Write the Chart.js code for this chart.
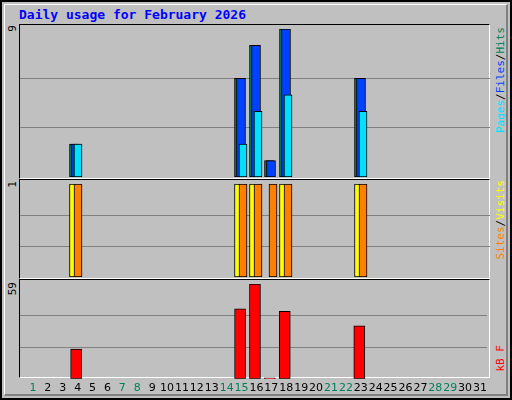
<!DOCTYPE html>
<html>
<head>
<meta charset="utf-8">
<script src="https://cdn.jsdelivr.net/npm/chart.js@4"></script>
<style>
  body { margin: 0; background: #fff; font-family: "DejaVu Sans Mono", monospace; }
  #frame { position: absolute; left: 0; top: 0; width: 508px; height: 396px; background: #c0c0c0;
    border-top: 2px solid #000; border-left: 2px solid #000; border-right: 2px solid #000; border-bottom: 2px solid #000; }
  #inner { position: absolute; left: 2px; top: 2px; width: 504px; height: 392px; border-left: 1px solid #fff; border-top: 1px solid #fff; border-right: 2px solid #808080; border-bottom: 2px solid #808080; box-sizing: border-box; }
  .title { position: absolute; left: 19px; top: 7px; font-size: 13px; font-weight: bold; color: #0000ff; }
  .panel { position: absolute; left: 19px; width: 471px; border-top: 1px solid #000; border-left: 1px solid #000; border-right: 1px solid #fff; border-bottom: 1px solid #fff; box-sizing: border-box; }
  .wrap { position: absolute; }
  .vl { position: absolute; writing-mode: vertical-rl; transform: rotate(180deg); font-size: 11px; white-space: nowrap; }
</style>
</head>
<body>
<div id="frame"><div id="inner"></div></div>
<div class="title">Daily usage for February 2026</div>
<div class="panel" style="top:24px;height:155px"></div>
<div class="panel" style="top:179px;height:100px"></div>
<div class="panel" style="top:279px;height:99px"></div>
<div class="vl" style="left:6px;top:25px;color:#000">9</div>
<div class="vl" style="left:6px;top:181px;color:#000">1</div>
<div class="vl" style="left:6px;top:282px;color:#000">59</div>
<div class="vl" style="left:494px;top:27px"><span style="color:#00e0ff">Pages</span><span style="color:#000">/</span><span style="color:#0040ff">Files</span><span style="color:#000">/</span><span style="color:#00805c">Hits</span></div>
<div class="vl" style="left:494px;top:180px"><span style="color:#ff8000">Sites</span><span style="color:#000">/</span><span style="color:#ffff00">Visits</span></div>
<div class="vl" style="left:494px;top:345px"><span style="color:#ff0000">kB F</span></div>
<div class="wrap" style="left:20px;top:29px;width:470px;height:148px"><canvas id="c1"></canvas></div>
<div class="wrap" style="left:20px;top:184px;width:470px;height:93px"><canvas id="c2"></canvas></div>
<div class="wrap" style="left:20px;top:284px;width:470px;height:114px"><canvas id="c3"></canvas></div>
<script>
const days = Array.from({ length: 31 }, (_, i) => i + 1);
const weekendDays = [1, 7, 8, 14, 15, 21, 22, 28, 29];
const hits   = [0,0,0,2,0,0,0,0,0,0,0,0,0,0,6,8,1,9,0,0,0,0,6,0,0,0,0,0,0,0,0];
const files  = [0,0,0,2,0,0,0,0,0,0,0,0,0,0,6,8,1,9,0,0,0,0,6,0,0,0,0,0,0,0,0];
const pages  = [0,0,0,2,0,0,0,0,0,0,0,0,0,0,2,4,0,5,0,0,0,0,4,0,0,0,0,0,0,0,0];
const visits = [0,0,0,1,0,0,0,0,0,0,0,0,0,0,1,1,0,1,0,0,0,0,1,0,0,0,0,0,0,0,0];
const sites  = [0,0,0,1,0,0,0,0,0,0,0,0,0,0,1,1,1,1,0,0,0,0,1,0,0,0,0,0,0,0,0];
const kbytes = [0,0,0,18.5,0,0,0,0,0,0,0,0,0,0,43.5,59,0.6,42,0,0,0,0,33,0,0,0,0,0,0,0,0];

const DAY_PX = 15;
const xMin = 1 - 13 / DAY_PX, xMax = 31 + 7 / DAY_PX;

// order: higher numbers are drawn first (underneath)
function series(values, offsetPx, color, width, order) {
  return {
    data: days.map((d, i) => ({ x: d + offsetPx / DAY_PX, y: values[i] })).filter(p => p.y > 0),
    backgroundColor: color,
    borderColor: "#000",
    borderWidth: 1,
    borderSkipped: false,
    barThickness: width,
    grouped: false,
    order,
  };
}

function makeChart(id, datasets, yMax, showX) {
  return new Chart(document.getElementById(id), {
    type: "bar",
    data: { datasets },
    options: {
      responsive: true,
      maintainAspectRatio: false,
      animation: false,
      layout: { padding: 0 },
      plugins: { legend: { display: false }, tooltip: { enabled: false } },
      scales: {
        x: {
          type: "linear", min: xMin, max: xMax, offset: false,
          display: showX,
          border: { display: false },
          grid: { display: false, drawTicks: false },
          afterBuildTicks: axis => { axis.ticks = days.map(v => ({ value: v })); },
          ticks: {
            autoSkip: false, maxRotation: 0, padding: 3,
            font: { family: "DejaVu Sans", size: 11 },
            color: ctx => weekendDays.includes(ctx.tick.value) ? "#00805c" : "#000",
          },
        },
        y: {
          min: 0, max: yMax,
          afterBuildTicks: axis => { axis.ticks = [1, 2].map(k => ({ value: yMax * k / 3 })); },
          ticks: { display: false },
          border: { display: false },
          grid: { color: "#808080", lineWidth: 1, drawTicks: false },
        },
      },
    },
  });
}

makeChart("c1", [
  series(hits, -4, "#00805c", 9, 3),
  series(files, -2, "#0040ff", 9, 2),
  series(pages, 0, "#00e0ff", 8, 1),
], 9, false);

makeChart("c2", [
  series(visits, -4, "#ffff00", 9, 2),
  series(sites, 0, "#ff8000", 8, 1),
], 1, false);

makeChart("c3", [
  series(kbytes, -1.5, "#ff0000", 11, 1),
], 59, true);
</script>
</body>
</html>
